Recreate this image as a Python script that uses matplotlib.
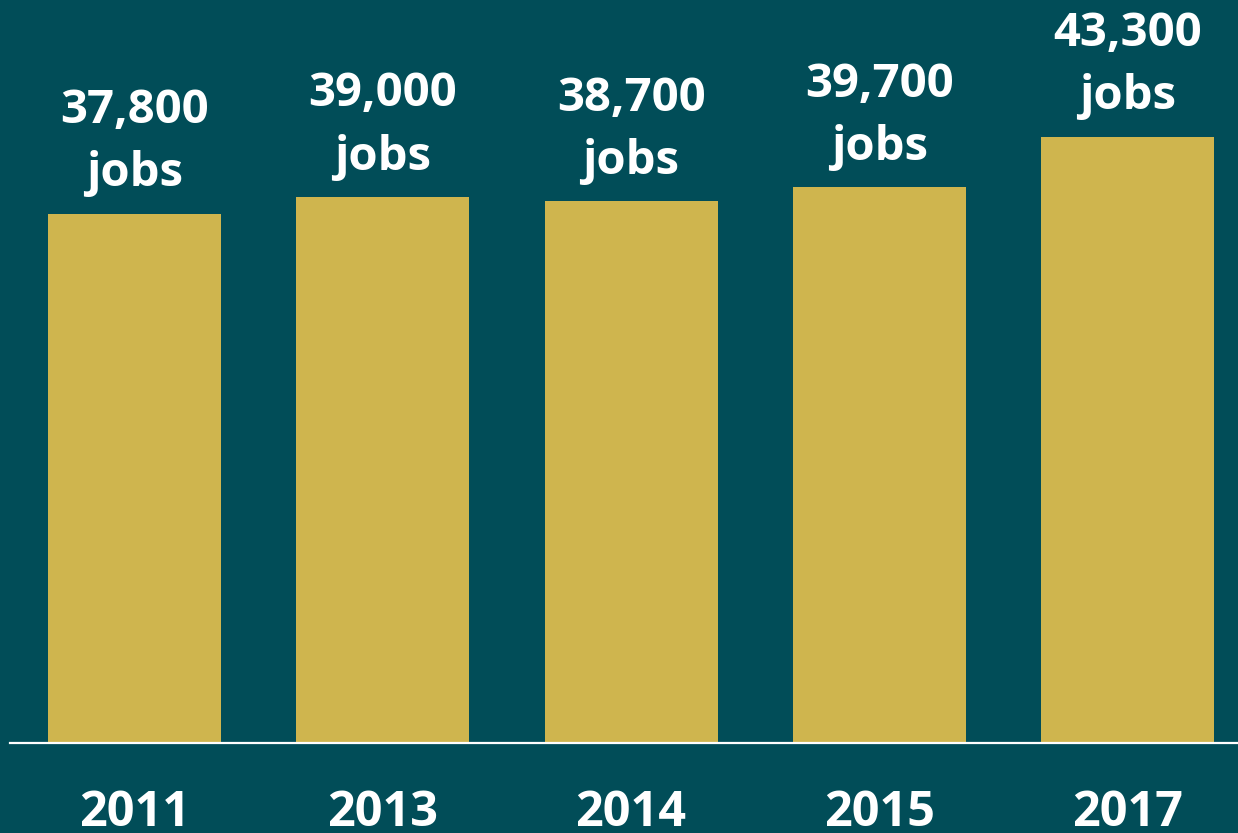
import matplotlib.pyplot as plt

years = ['2011', '2013', '2014', '2015', '2017']
jobs = [37800, 39000, 38700, 39700, 43300]

bg = '#014D58'
gold = '#CFB54E'

plt.rcParams['font.family'] = ['Open Sans', 'DejaVu Sans']
plt.rcParams['font.weight'] = 'bold'

fig = plt.figure(figsize=(12.38, 8.33), dpi=100, facecolor=bg)
ax = fig.add_axes([0, 90 / 833, 1, 743 / 833])
ax.set_facecolor(bg)

x = list(range(len(years)))
bars = ax.bar(x, jobs, width=0.697, color=gold, zorder=2)

# value labels above each bar
for xi, v in zip(x, jobs):
    ax.annotate('{:,}\njobs'.format(v), (xi, v), xytext=(0, 12),
                textcoords='offset points', ha='center', va='bottom',
                color='white', fontsize=34, fontweight='bold',
                linespacing=1.45)

ax.axhline(0, xmin=10 / 1238, xmax=1, color='white', lw=1.6, clip_on=False, zorder=3)

ax.set_xlim(-0.542, 4.445)
ax.set_ylim(0, 53100)
ax.set_xticks(x)
ax.set_xticklabels(years, color='white', fontsize=35, fontweight='bold')
ax.tick_params(axis='x', length=0, pad=33)
ax.set_yticks([])
for s in ax.spines.values():
    s.set_visible(False)

fig.savefig('out.png', dpi=100, facecolor=bg)
